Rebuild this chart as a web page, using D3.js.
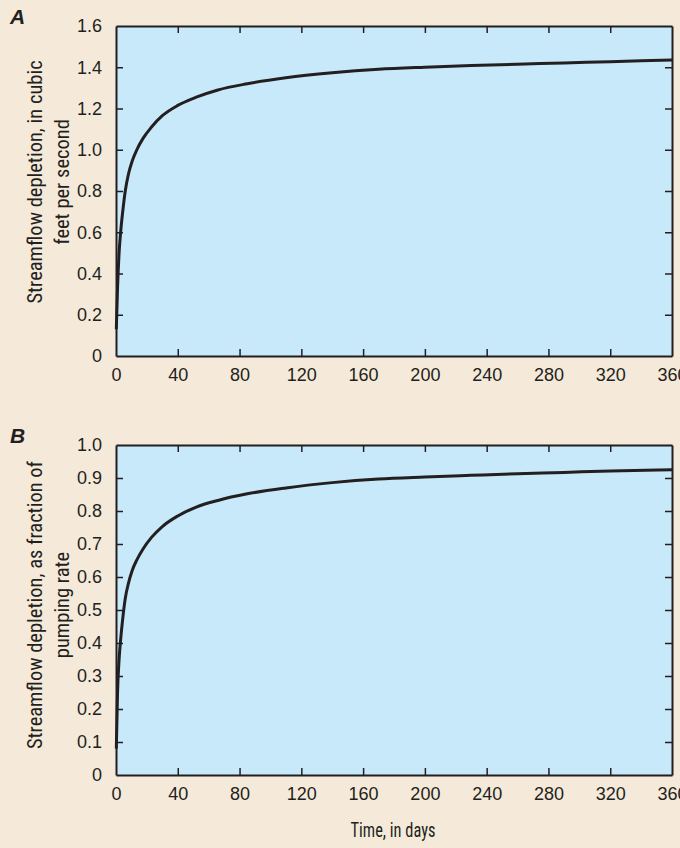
<!DOCTYPE html>
<html><head><meta charset="utf-8">
<script src="https://cdn.jsdelivr.net/npm/d3@7"></script>
<style>
html,body{margin:0;padding:0;background:#f5eada;}
svg{display:block;}
text{font-family:"Liberation Sans Narrow","Roboto Condensed","Liberation Sans",sans-serif;fill:#231f20;}
</style></head><body>
<svg id="c" width="680" height="848"></svg>
<script>
// ---- data ----
const xTicks = [0,40,80,120,160,200,240,280,320,360];
const yTicksA = [0,0.2,0.4,0.6,0.8,1.0,1.2,1.4,1.6];
const yTickLabelsA = ["0","0.2","0.4","0.6","0.8","1.0","1.2","1.4","1.6"];
const yTicksB = [0,0.1,0.2,0.3,0.4,0.5,0.6,0.7,0.8,0.9,1.0];
const yTickLabelsB = ["0","0.1","0.2","0.3","0.4","0.5","0.6","0.7","0.8","0.9","1.0"];
const daysA = [0.2,1,2,3,4.5,6,8,10.5,13.5,17.5,23,30,40,52,66,85,110,140,170,200,230,260,290,320,360];
const depletionCfs = [0.13,0.33,0.50,0.60,0.71,0.80,0.88,0.945,1.0,1.055,1.11,1.165,1.215,1.255,1.29,1.32,1.349,1.373,1.39,1.40,1.408,1.415,1.421,1.427,1.435];
const daysB = [0.2,1,2,3,4.5,6,8,10.5,13.5,17.5,23,30,40,52,66,85,110,140,170,200,230,260,290,320,360];
const depletionFrac = [0.08,0.25,0.35,0.41,0.48,0.535,0.58,0.62,0.652,0.685,0.72,0.753,0.785,0.812,0.832,0.852,0.87,0.886,0.897,0.903,0.908,0.913,0.917,0.921,0.925];

const svg = d3.select("#c");
const ink = "#231f20";

function panel(cfg){
  const {left,right,top,bottom,yMax,yTicks,yLabels,xs,ys,letter,title} = cfg;
  const x = d3.scaleLinear().domain([0,360]).range([left,right]);
  const y = d3.scaleLinear().domain([0,yMax]).range([bottom,top]);
  const g = svg.append("g");
  g.append("rect").attr("x",left).attr("y",top).attr("width",right-left).attr("height",bottom-top)
    .attr("fill","#c7e9f9");
  g.append("path").datum(xs.map((d,i)=>[d,ys[i]]))
    .attr("d", d3.line().x(d=>x(d[0])).y(d=>y(d[1])).curve(d3.curveMonotoneX))
    .attr("fill","none").attr("stroke",ink).attr("stroke-width",3);
  const tl = 7;
  const bx = g.append("g").attr("transform",`translate(0,${bottom})`)
    .call(d3.axisBottom(x).tickValues(xTicks).tickSize(-tl).tickPadding(tl+5).tickSizeOuter(0));
  const tx = g.append("g").attr("transform",`translate(0,${top})`)
    .call(d3.axisTop(x).tickValues(xTicks.slice(1,-1)).tickSize(-tl).tickFormat("").tickSizeOuter(0));
  const lx = g.append("g").attr("transform",`translate(${left},0)`)
    .call(d3.axisLeft(y).tickValues(yTicks).tickSize(-tl).tickPadding(tl+7).tickSizeOuter(0)
      .tickFormat((d,i)=>yLabels[i]));
  const rx = g.append("g").attr("transform",`translate(${right},0)`)
    .call(d3.axisRight(y).tickValues(yTicks.slice(1,-1)).tickSize(-tl).tickFormat("").tickSizeOuter(0));
  [bx,tx,lx,rx].forEach(a=>{
    a.selectAll(".domain").attr("stroke",ink).attr("stroke-width",2);
    a.selectAll(".tick line").attr("stroke",ink).attr("stroke-width",1.5);
    a.selectAll(".tick text").attr("fill",ink).style("font-size","18px")
      .style("font-family",'"Liberation Sans Narrow","Liberation Sans",sans-serif');
  });
  bx.selectAll(".tick").filter(d=>d===0||d===360).select("line").remove();
  lx.selectAll(".tick").filter(d=>d===0||d===yMax).select("line").remove();
  svg.append("text").attr("x",10).attr("y",top-2).text(letter)
    .style("font-family","'Liberation Sans',Arial,sans-serif").style("font-weight","bold").style("font-style","italic").style("font-size","21px");
  const cy = cfg.titleCenter;
  const t = svg.append("text").attr("transform",`translate(42,${cy}) rotate(-90)`).attr("text-anchor","middle")
    .style("font-size","20.5px");
  t.append("tspan").attr("x",0).attr("dy",0).text(title[0]);
  t.append("tspan").attr("x",0).attr("dy",27).text(title[1]);
}

panel({left:116,right:672,top:26,bottom:356,yMax:1.6,yTicks:yTicksA,yLabels:yTickLabelsA,xs:daysA,ys:depletionCfs,
  letter:"A",title:["Streamflow depletion, in cubic","feet per second"],titleCenter:182});
panel({left:116,right:672,top:445,bottom:775,yMax:1.0,yTicks:yTicksB,yLabels:yTickLabelsB,xs:daysB,ys:depletionFrac,
  letter:"B",title:["Streamflow depletion, as fraction of","pumping rate"],titleCenter:605});

svg.append("text").attr("transform","translate(393,837) scale(0.82,1)").attr("text-anchor","middle")
  .style("font-size","20px").text("Time, in days");
</script>
</body></html>
